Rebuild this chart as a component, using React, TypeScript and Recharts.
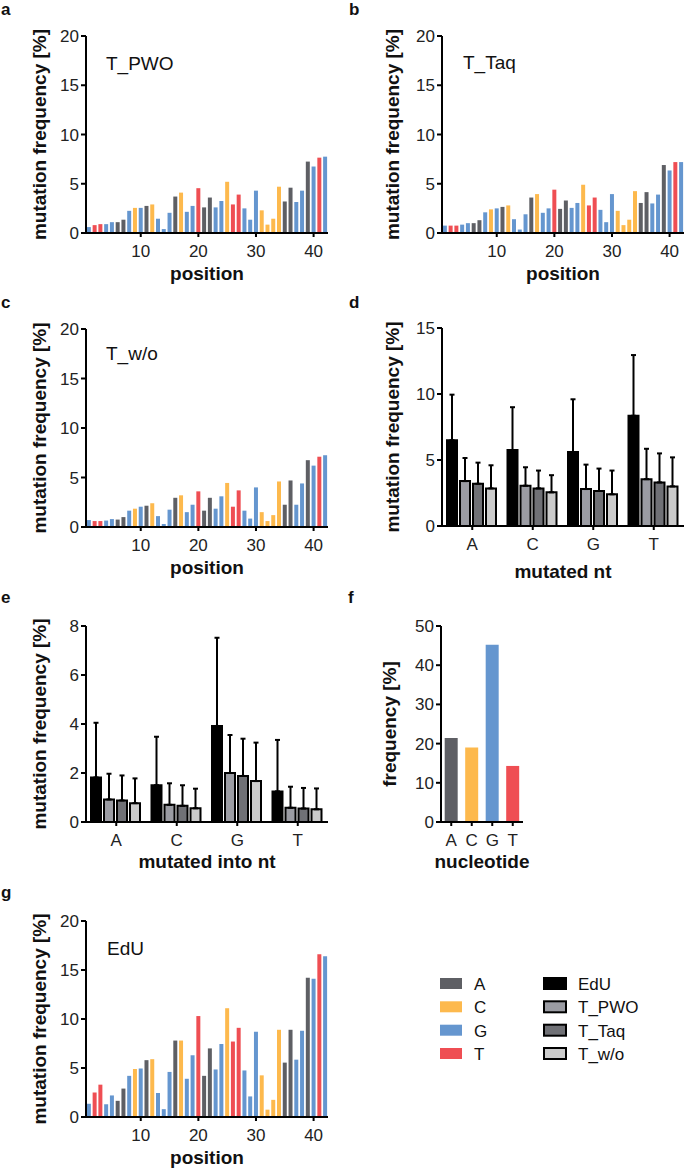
import React from "react";
import { Bar, BarChart, Cell, ErrorBar, XAxis, YAxis } from "recharts";

const FONT = "'Liberation Sans', Arial, Helvetica, sans-serif";

// template positions and the nucleotide at each one
const positions = Array.from({ length: 42 }, (_, i) => i + 1);
const sequence = [
  "G", "T", "T", "G", "G", "A", "A", "G", "C", "G", "A", "C", "G", "G", "G", "A", "C", "G", "G", "T", "A",
  "A", "G", "G", "C", "T", "T", "G", "G", "G", "C", "C", "C", "C", "A", "A", "G", "G", "A", "G", "T", "G",
];

// mutation frequency [%] per position
const tPwo = [0.6, 0.8, 0.9, 0.9, 1.1, 1.1, 1.35, 2.25, 2.55, 2.55, 2.75, 2.9, 1.45, 0.4, 2.05, 3.7, 4.1, 2.15, 2.75, 4.55, 2.6, 3.6, 2.6, 3.25, 5.2, 2.9, 3.9, 2.5, 1.35, 4.3, 2.3, 0.85, 1.45, 4.7, 3.2, 4.6, 3.15, 4.3, 7.25, 6.75, 7.65, 7.75];
const tTaq = [0.75, 0.75, 0.75, 0.85, 1.0, 1.0, 1.3, 2.1, 2.4, 2.5, 2.65, 2.8, 1.4, 0.35, 1.9, 3.6, 3.95, 2.05, 2.5, 4.4, 2.45, 3.3, 2.55, 3.05, 4.9, 2.8, 3.6, 2.35, 1.1, 3.95, 2.25, 0.8, 1.35, 4.25, 3.05, 4.15, 3.0, 3.9, 6.9, 6.35, 7.2, 7.2];
const tWo = [0.7, 0.6, 0.6, 0.65, 0.8, 0.75, 1.0, 1.65, 1.85, 2.05, 2.15, 2.4, 1.1, 0.3, 1.75, 2.95, 3.2, 1.5, 2.25, 3.6, 1.65, 2.95, 1.85, 3.1, 4.45, 2.05, 3.7, 1.65, 0.85, 4.0, 1.5, 0.6, 1.2, 4.6, 2.25, 4.7, 2.25, 4.4, 6.75, 6.2, 7.1, 7.25];
const edu = [1.35, 2.5, 3.3, 1.3, 2.2, 1.65, 2.9, 4.2, 4.9, 4.95, 5.8, 5.9, 2.45, 0.8, 4.6, 7.8, 7.8, 3.9, 6.3, 10.3, 4.2, 7.0, 4.85, 7.45, 11.1, 7.7, 9.1, 4.75, 2.1, 8.7, 4.25, 0.75, 1.75, 8.9, 5.55, 8.9, 5.85, 8.8, 14.2, 14.1, 16.6, 16.4];

const nts = ["A", "C", "G", "T"];

// d: mutated nt (mean, upper error)
const mutEdu = [6.5, 5.75, 5.6, 8.35];
const mutEduErr = [3.45, 3.25, 4.0, 4.6];
const mutPwo = [3.4, 3.05, 2.8, 3.55];
const mutPwoErr = [1.75, 1.4, 1.85, 2.3];
const mutTaq = [3.2, 2.85, 2.65, 3.3];
const mutTaqErr = [1.6, 1.35, 1.7, 2.2];
const mutWo = [2.85, 2.55, 2.4, 3.0];
const mutWoErr = [1.75, 1.3, 1.8, 2.2];

// e: mutated into nt
const intoEdu = [1.82, 1.5, 3.92, 1.25];
const intoEduErr = [2.23, 1.98, 3.6, 2.1];
const intoPwo = [0.92, 0.7, 2.0, 0.58];
const intoPwoErr = [1.05, 0.88, 1.55, 0.86];
const intoTaq = [0.88, 0.66, 1.88, 0.55];
const intoTaqErr = [1.02, 0.84, 1.52, 0.84];
const intoWo = [0.77, 0.56, 1.67, 0.52];
const intoWoErr = [1.01, 0.8, 1.57, 0.85];

// f: nucleotide frequency
const ntFreq = [21.4, 19.0, 45.2, 14.3];

const posTicks = [10, 20, 30, 40];
const posYTicks = [0, 5, 10, 15, 20];
const mutYTicks = [0, 5, 10, 15];
const intoYTicks = [0, 2, 4, 6, 8];
const freqYTicks = [0, 10, 20, 30, 40, 50];

const seriesNames = ["EdU", "T_PWO", "T_Taq", "T_w/o"];

const ntColors: Record<string, string> = { A: "#5e5f64", C: "#fdb94d", G: "#6596cf", T: "#ef4e53" };
const seriesColors = ["#000000", "#9b9ca3", "#707176", "#cbcbcb"];

const axisLine = { stroke: "#000", strokeWidth: 2 };
const tickStyle = { fill: "#222", fontSize: 17, fontFamily: FONT };
const titleStyle = { fill: "#111", fontSize: 19, fontWeight: 700, fontFamily: FONT };

type Plot = { x: number; y: number; w: number; h: number };

function Frame({ plot, yw, xh, data, gap, barGap, right = 4, children }: any) {
  const top = 12;
  const bottom = 8;
  return (
    <div style={{ position: "absolute", left: plot.x - yw, top: plot.y - top }}>
      <BarChart
        width={yw + plot.w + right}
        height={top + plot.h + xh + bottom}
        data={data}
        margin={{ top, right, bottom, left: 0 }}
        barCategoryGap={gap}
        barGap={barGap}
      >
        {children}
      </BarChart>
    </div>
  );
}

function PositionPanel({ plot, values, labelX }: { plot: Plot; values: number[]; labelX: number }) {
  const yw = 2 * (plot.x - labelX);
  const data = positions.map((pos, i) => ({ pos, value: values[i], nt: sequence[i] }));
  return (
    <Frame plot={plot} yw={yw} xh={47} data={data} gap="15%">
      <XAxis
        dataKey="pos"
        type="category"
        ticks={posTicks}
        interval={0}
        height={47}
        axisLine={axisLine}
        tickLine={axisLine}
        tickSize={4}
        tickMargin={8}
        tick={tickStyle}
        label={{ value: "position", position: "insideBottom", offset: 0, ...titleStyle }}
      />
      <YAxis
        type="number"
        domain={[0, 20]}
        ticks={posYTicks}
        interval={0}
        width={yw}
        axisLine={axisLine}
        tickLine={axisLine}
        tickSize={5}
        tickMargin={2}
        tick={tickStyle}
        label={{ value: "mutation frequency [%]", angle: -90, position: "center", ...titleStyle }}
      />
      <Bar dataKey="value" isAnimationActive={false}>
        {data.map((d) => (
          <Cell key={d.pos} fill={ntColors[d.nt]} />
        ))}
      </Bar>
    </Frame>
  );
}

function GroupPanel({ plot, labelX, xh, means, errs, yMax, yTicks, xLabel }: any) {
  const yw = 2 * (plot.x - labelX);
  const data = nts.map((nt, i) => {
    const row: any = { nt };
    seriesNames.forEach((s, k) => {
      row[`s${k}`] = means[k][i];
      row[`e${k}`] = [0, errs[k][i]];
    });
    return row;
  });
  return (
    <Frame plot={plot} yw={yw} xh={xh} data={data} gap={5} barGap={3}>
      <XAxis
        dataKey="nt"
        type="category"
        interval={0}
        height={xh}
        axisLine={axisLine}
        tickLine={axisLine}
        tickSize={4}
        tickMargin={8}
        tick={tickStyle}
        label={{ value: xLabel, position: "insideBottom", offset: 0, ...titleStyle }}
      />
      <YAxis
        type="number"
        domain={[0, yMax]}
        ticks={yTicks}
        interval={0}
        width={yw}
        axisLine={axisLine}
        tickLine={axisLine}
        tickSize={5}
        tickMargin={2}
        tick={tickStyle}
        label={{ value: "mutation frequency [%]", angle: -90, position: "center", ...titleStyle }}
      />
      {seriesNames.map((s, k) => (
        <Bar key={s} name={s} dataKey={`s${k}`} fill={seriesColors[k]} stroke="#000" strokeWidth={2} isAnimationActive={false}>
          <ErrorBar dataKey={`e${k}`} direction="y" width={2.5} stroke="#000" strokeWidth={2} isAnimationActive={false} />
        </Bar>
      ))}
    </Frame>
  );
}

function FreqPanel({ plot, labelX }: { plot: Plot; labelX: number }) {
  const yw = 2 * (plot.x - labelX);
  const data = nts.map((nt, i) => ({ nt, value: ntFreq[i] }));
  return (
    <Frame plot={plot} yw={yw} xh={46} data={data} gap="18%" right={40}>
      <XAxis
        dataKey="nt"
        type="category"
        interval={0}
        height={46}
        axisLine={axisLine}
        tickLine={axisLine}
        tickSize={4}
        tickMargin={8}
        tick={tickStyle}
        label={{ value: "nucleotide", position: "insideBottom", offset: 0, ...titleStyle }}
      />
      <YAxis
        type="number"
        domain={[0, 50]}
        ticks={freqYTicks}
        interval={0}
        width={yw}
        axisLine={axisLine}
        tickLine={axisLine}
        tickSize={5}
        tickMargin={2}
        tick={tickStyle}
        label={{ value: "frequency [%]", angle: -90, position: "center", ...titleStyle }}
      />
      <Bar dataKey="value" isAnimationActive={false}>
        {data.map((d) => (
          <Cell key={d.nt} fill={ntColors[d.nt]} />
        ))}
      </Bar>
    </Frame>
  );
}

const letters = [
  { t: "a", x: 1, y: 15 },
  { t: "b", x: 349, y: 15 },
  { t: "c", x: 1, y: 308 },
  { t: "d", x: 349, y: 308 },
  { t: "e", x: 1, y: 603 },
  { t: "f", x: 348, y: 603 },
  { t: "g", x: 1, y: 898 },
];

const titles = [
  { t: "T_PWO", x: 106, y: 70 },
  { t: "T_Taq", x: 463, y: 69 },
  { t: "T_w/o", x: 106, y: 360 },
  { t: "EdU", x: 107, y: 955 },
];

const legendRows = [990, 1013.3, 1036.7, 1060];

function Overlay() {
  return (
    <svg width={685} height={1170} style={{ position: "absolute", left: 0, top: 0, pointerEvents: "none" }}>
      {letters.map((l) => (
        <text key={l.t} x={l.x} y={l.y} fontSize={17} fontWeight={700} fontFamily={FONT} fill="#111">
          {l.t}
        </text>
      ))}
      {titles.map((l) => (
        <text key={l.t} x={l.x} y={l.y} fontSize={19} fontFamily={FONT} fill="#111">
          {l.t}
        </text>
      ))}
      {nts.map((nt, i) => (
        <g key={nt}>
          <rect x={440} y={legendRows[i] - 12} width={22} height={11} fill={ntColors[nt]} />
          <text x={474} y={legendRows[i]} fontSize={17} fontFamily={FONT} fill="#111">
            {nt}
          </text>
        </g>
      ))}
      {seriesNames.map((s, i) => (
        <g key={s}>
          <rect x={544} y={legendRows[i] - 12} width={22} height={11} fill={seriesColors[i]} stroke="#000" strokeWidth={2} />
          <text x={578} y={legendRows[i]} fontSize={17} fontFamily={FONT} fill="#111">
            {s}
          </text>
        </g>
      ))}
    </svg>
  );
}

export default function App() {
  return (
    <div style={{ position: "absolute", left: 0, top: 0, width: 685, height: 1170, overflow: "hidden", background: "#fff" }}>
      <PositionPanel plot={{ x: 85.5, y: 36, w: 242, h: 197 }} values={tPwo} labelX={38.5} />
      <PositionPanel plot={{ x: 442, y: 36, w: 242, h: 197 }} values={tTaq} labelX={392} />
      <PositionPanel plot={{ x: 85.5, y: 329, w: 242, h: 198 }} values={tWo} labelX={38.5} />
      <GroupPanel
        plot={{ x: 442, y: 328, w: 242, h: 198 }}
        labelX={392}
        xh={52}
        means={[mutEdu, mutPwo, mutTaq, mutWo]}
        errs={[mutEduErr, mutPwoErr, mutTaqErr, mutWoErr]}
        yMax={15}
        yTicks={mutYTicks}
        xLabel="mutated nt"
      />
      <GroupPanel
        plot={{ x: 85.5, y: 626, w: 242, h: 196 }}
        labelX={38.5}
        xh={46}
        means={[intoEdu, intoPwo, intoTaq, intoWo]}
        errs={[intoEduErr, intoPwoErr, intoTaqErr, intoWoErr]}
        yMax={8}
        yTicks={intoYTicks}
        xLabel="mutated into nt"
      />
      <FreqPanel plot={{ x: 441, y: 626, w: 82, h: 196 }} labelX={389} />
      <PositionPanel plot={{ x: 85.5, y: 921, w: 242, h: 196 }} values={edu} labelX={38.5} />
      <Overlay />
    </div>
  );
}
